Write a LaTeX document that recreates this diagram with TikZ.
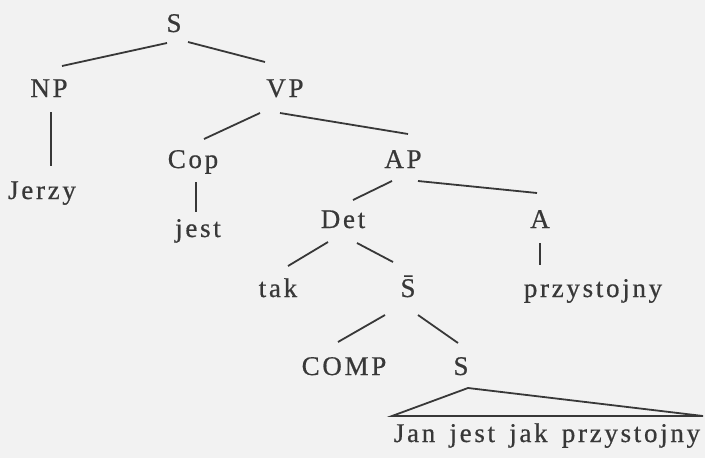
\documentclass[tikz,border=0pt]{standalone}
\usepackage{fontspec}
\setmainfont{Liberation Serif}[LetterSpace=10,FakeBold=0.6,WordSpace=1.5]
\begin{document}
\begin{tikzpicture}[x=1pt,y=-1pt,
  lab/.style={anchor=base,inner sep=0pt,font=\fontsize{27}{31}\selectfont,text=black!78},
  edge/.style={line width=1.8pt,draw=black!78}]
\fill[black!5] (0,0) rectangle (705,458);
\useasboundingbox (0,0) rectangle (705,458);
\node[lab] (S0) at (174,32) {S};
\node[lab] (NP) at (49,97) {NP};
\node[lab] (VP) at (285,97) {VP};
\node[lab] (Jerzy) at (42,199) {Jerzy};
\node[lab] (Cop) at (193,168) {Cop};
\node[lab] (AP) at (403,168) {AP};
\node[lab] (jest) at (198,237) {jest};
\node[lab] (Det) at (343,228) {Det};
\node[lab] (A) at (540,228) {A};
\node[lab] (tak) at (278,297) {tak};
\node[lab] (Sb) at (408,297) {\=S};
\node[lab] (przy) at (593,297) {przystojny};
\node[lab] (COMP) at (344,375) {COMP};
\node[lab] (S2) at (461,375) {S};
\node[lab] (bottom) at (547,442) {Jan jest jak przystojny};
\draw[edge] ([shift={(-7,11)}]S0.base) -- ([shift={(13,-31)}]NP.base);
\draw[edge] ([shift={(14,10)}]S0.base) -- ([shift={(-20,-35)}]VP.base);
\draw[edge] ([shift={(2,15)}]NP.base) -- ([shift={(9,-33)}]Jerzy.base);
\draw[edge] ([shift={(-25,16)}]VP.base) -- ([shift={(11,-29)}]Cop.base);
\draw[edge] ([shift={(-5,16)}]VP.base) -- ([shift={(5,-34)}]AP.base);
\draw[edge] ([shift={(3,14)}]Cop.base) -- ([shift={(-2,-25)}]jest.base);
\draw[edge] ([shift={(-11,13)}]AP.base) -- ([shift={(10,-28)}]Det.base);
\draw[edge] ([shift={(15,13)}]AP.base) -- ([shift={(-3,-35)}]A.base);
\draw[edge] ([shift={(-15,14)}]Det.base) -- ([shift={(10,-31)}]tak.base);
\draw[edge] ([shift={(14,15)}]Det.base) -- ([shift={(-15,-35)}]Sb.base);
\draw[edge] ([shift={(0,15)}]A.base) -- ([shift={(-53,-32)}]przy.base);
\draw[edge] ([shift={(-23,18)}]Sb.base) -- ([shift={(-6,-33)}]COMP.base);
\draw[edge] ([shift={(10,18)}]Sb.base) -- ([shift={(-3,-32)}]S2.base);
\draw[edge,line join=miter] ([shift={(7,13)}]S2.base) -- ([shift={(-155,-26)}]bottom.base) -- ([shift={(156,-26)}]bottom.base) -- cycle;
\end{tikzpicture}
\end{document}
